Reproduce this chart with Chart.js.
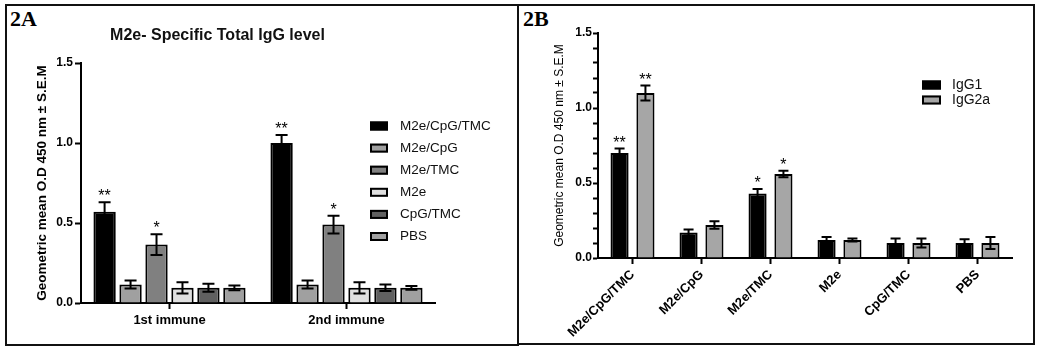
<!DOCTYPE html>
<html>
<head>
<meta charset="utf-8">
<script src="https://cdn.jsdelivr.net/npm/chart.js@4.4.1/dist/chart.umd.min.js"></script>
<style>
  body { margin: 0; width: 1043px; height: 352px; background: #fff; position: relative; overflow: hidden; }
  .panel { position: absolute; border: 2px solid #111; box-sizing: border-box; }
  .tag { position: absolute; font: bold 22px 'Liberation Serif', 'Times New Roman', serif; line-height: 22px; color: #000; }
  canvas { position: absolute; top: 0; }
</style>
</head>
<body>
<div class="panel" style="left:5px; top:4px; width:514px; height:342px;"></div>
<div class="panel" style="left:517px; top:4px; width:518px; height:341px;"></div>
<div class="tag" style="left:10px; top:8px;">2A</div>
<div class="tag" style="left:523px; top:8px;">2B</div>
<canvas id="chartA" width="520" height="352" style="left:0;"></canvas>
<canvas id="chartB" width="523" height="352" style="left:520px;"></canvas>
<script>
// Panel 2A: total IgG, one series per formulation, values for [1st, 2nd] immunization
const immunizations = ['1st immune', '2nd immune'];
const formulations = ['M2e/CpG/TMC', 'M2e/CpG', 'M2e/TMC', 'M2e', 'CpG/TMC', 'PBS'];
const totalIgG = [[0.57, 1.00], [0.115, 0.115], [0.365, 0.49], [0.095, 0.095], [0.095, 0.095], [0.095, 0.095]];
const totalIgGSem = [[0.06, 0.05], [0.025, 0.025], [0.065, 0.055], [0.035, 0.035], [0.025, 0.02], [0.015, 0.012]];
const totalIgGStars = [['**', '**'], ['', ''], ['*', '*'], ['', ''], ['', ''], ['', '']];
const fillsA = ['#000000', '#a0a0a0', '#808080', '#e0e0e0', '#606060', '#a0a0a0'];

// Panel 2B: IgG subclasses per formulation
const subclasses = ['IgG1', 'IgG2a'];
const igg1 = [0.70, 0.17, 0.43, 0.12, 0.10, 0.10];
const igg1Sem = [0.03, 0.02, 0.03, 0.02, 0.03, 0.025];
const igg1Stars = ['**', '', '*', '', '', ''];
const igg2a = [1.10, 0.22, 0.56, 0.12, 0.10, 0.10];
const igg2aSem = [0.05, 0.025, 0.022, 0.01, 0.03, 0.04];
const igg2aStars = ['**', '', '*', '', '', ''];
const fillsB = ['#000000', '#a6a6a6'];

const yMajorTicks = [0, 0.5, 1.0, 1.5];
const yTitle = 'Geometric mean O.D 450 nm \u00b1 S.E.M';

Chart.defaults.font.family = "'Liberation Sans', Arial, sans-serif";
Chart.defaults.color = '#000';

// mean +/- SEM whiskers and significance stars
const errorBars = {
    id: 'errorBars',
    afterDatasetsDraw(chart, args, opts) {
        let ctx = chart.ctx;
        let y = chart.scales.y;
        ctx.save();
        ctx.strokeStyle = '#000';
        ctx.fillStyle = '#000';
        ctx.lineWidth = 2;
        ctx.font = opts.starFont;
        ctx.textAlign = 'center';
        ctx.textBaseline = 'alphabetic';
        chart.data.datasets.forEach((ds, i) => {
            chart.getDatasetMeta(i).data.forEach((bar, j) => {
                let v = ds.data[j], e = ds.sem[j];
                let top = y.getPixelForValue(v + e);
                let bot = y.getPixelForValue(v - e);
                let w = opts.cap;
                ctx.beginPath();
                ctx.moveTo(bar.x, bot); ctx.lineTo(bar.x, top);
                ctx.moveTo(bar.x - w, top); ctx.lineTo(bar.x + w, top);
                ctx.moveTo(bar.x - w, bot); ctx.lineTo(bar.x + w, bot);
                ctx.stroke();
                if (ds.stars[j]) ctx.fillText(ds.stars[j], bar.x, top - opts.starGap);
            });
        });
        ctx.restore();
    }
};

// legend floating inside the plot, GraphPad style
const boxLegend = {
    id: 'boxLegend',
    afterDraw(chart, args, o) {
        let ctx = chart.ctx;
        let a = chart.chartArea;
        ctx.save();
        ctx.font = o.font;
        ctx.textBaseline = 'middle';
        ctx.textAlign = 'left';
        chart.data.datasets.forEach((ds, i) => {
            let cy = o.top + i * o.rowH;
            let bx = a.right + o.dx;
            ctx.fillStyle = ds.backgroundColor;
            ctx.fillRect(bx, cy - o.boxH / 2, o.boxW, o.boxH);
            ctx.strokeStyle = '#000';
            ctx.lineWidth = 2;
            ctx.strokeRect(bx + 1, cy - o.boxH / 2 + 1, o.boxW - 2, o.boxH - 2);
            ctx.fillStyle = '#111';
            ctx.fillText(ds.label, bx + o.boxW + o.gap, cy);
        });
        ctx.restore();
    }
};

function isMajor(v) {
    return yMajorTicks.some(m => Math.abs(m - v) < 1e-6);
}

new Chart(document.getElementById('chartA'), {
    type: 'bar',
    data: {
        labels: immunizations,
        datasets: formulations.map((name, i) => ({
            label: name,
            data: totalIgG[i],
            sem: totalIgGSem[i],
            stars: totalIgGStars[i],
            backgroundColor: fillsA[i],
            borderColor: '#000',
            borderWidth: 2,
            categoryPercentage: 0.88,
            barPercentage: 0.86
        }))
    },
    options: {
        responsive: false,
        animation: false,
        layout: { padding: { left: 0, right: 85, top: 0, bottom: 0 } },
        plugins: {
            legend: { display: false },
            tooltip: { enabled: false },
            title: {
                display: true,
                text: 'M2e- Specific Total IgG level',
                color: '#111',
                font: { size: 16, weight: 'bold' },
                padding: { top: 26, bottom: 17.8 }
            },
            errorBars: { cap: 6, starGap: 1, starFont: '16px "Liberation Sans", Arial, sans-serif' },
            boxLegend: { top: 126, rowH: 22.1, dx: -65, boxW: 18, boxH: 9, gap: 12, font: '13.5px "Liberation Sans", Arial, sans-serif' }
        },
        scales: {
            x: {
                afterFit(scale) { scale.height = 49; },
                grid: { drawOnChartArea: false, offset: false, tickLength: 6, tickWidth: 2, tickColor: '#000' },
                border: { color: '#000', width: 2 },
                ticks: { font: { size: 13, weight: 'bold' }, padding: 4 }
            },
            y: {
                min: 0,
                max: 1.5,
                afterFit(scale) { scale.width = 81; },
                afterBuildTicks(scale) { scale.ticks = yMajorTicks.map(v => ({ value: v })); },
                grid: { drawOnChartArea: false, tickLength: 6, tickWidth: 2, tickColor: '#000' },
                border: { color: '#000', width: 2 },
                ticks: { font: { size: 12, weight: 'bold' }, padding: 2, callback: v => v.toFixed(1) },
                title: {
                    display: true,
                    text: yTitle,
                    font: { size: 13.5, weight: 'bold' },
                    padding: { top: 34, bottom: 0 }
                }
            }
        }
    },
    plugins: [errorBars, boxLegend]
});

new Chart(document.getElementById('chartB'), {
    type: 'bar',
    data: {
        labels: formulations,
        datasets: [
            { label: subclasses[0], data: igg1, sem: igg1Sem, stars: igg1Stars },
            { label: subclasses[1], data: igg2a, sem: igg2aSem, stars: igg2aStars }
        ].map((ds, i) => Object.assign(ds, {
            backgroundColor: fillsB[i],
            borderColor: '#000',
            borderWidth: 2,
            categoryPercentage: 0.75,
            barPercentage: 0.7
        }))
    },
    options: {
        responsive: false,
        animation: false,
        layout: { padding: { left: 0, right: 31, top: 33, bottom: 0 } },
        plugins: {
            legend: { display: false },
            tooltip: { enabled: false },
            errorBars: { cap: 5, starGap: 1, starFont: '16px "Liberation Sans", Arial, sans-serif' },
            boxLegend: { top: 85, rowH: 15, dx: -90, boxW: 19, boxH: 9, gap: 11, font: '14px "Liberation Sans", Arial, sans-serif' }
        },
        scales: {
            x: {
                afterFit(scale) { scale.height = 94; },
                grid: { drawOnChartArea: false, offset: false, tickLength: 6, tickWidth: 2, tickColor: '#000' },
                border: { color: '#000', width: 2 },
                ticks: { font: { size: 13, weight: 'bold' }, padding: 3, minRotation: 45, maxRotation: 45, autoSkip: false }
            },
            y: {
                min: 0,
                max: 1.5,
                afterFit(scale) { scale.width = 78; },
                grid: { drawOnChartArea: false, tickLength: 5, tickWidth: 2, tickColor: '#000' },
                border: { color: '#000', width: 2 },
                ticks: {
                    stepSize: 0.1,
                    autoSkip: false,
                    font: { size: 12, weight: 'bold' },
                    padding: 1,
                    callback: v => isMajor(v) ? v.toFixed(1) : ''
                },
                title: {
                    display: true,
                    text: yTitle,
                    font: { size: 12 },
                    padding: { top: 32, bottom: 0 }
                }
            }
        }
    },
    plugins: [errorBars, boxLegend]
});
</script>
</body>
</html>
